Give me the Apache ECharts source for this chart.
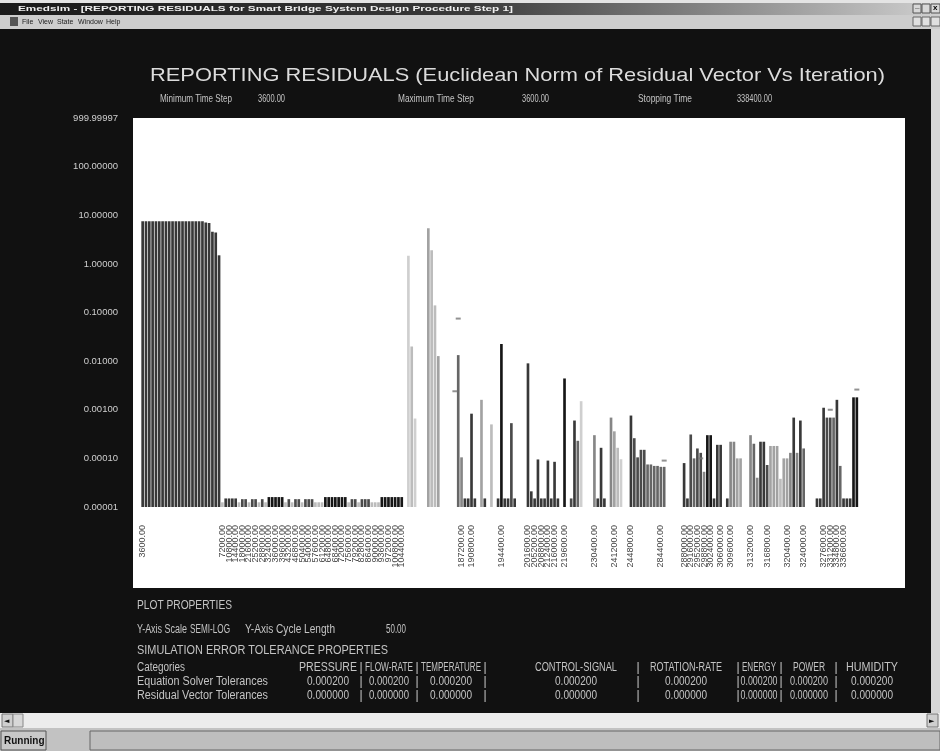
<!DOCTYPE html>
<html><head><meta charset="utf-8">
<style>html,body{margin:0;padding:0;background:#111;}#c{width:940px;height:751px;}</style>
<script src="https://cdn.jsdelivr.net/npm/echarts@6/dist/echarts.min.js"></script>
</head><body><div id="c"></div><script>
// ---------------- data ----------------
const variables = ['PRESSURE','FLOW-RATE','TEMPERATURE','CONTROL-SIGNAL','ROTATION-RATE','ENERGY','POWER','HUMIDITY'];
const solverTolerances   = ['0.000200','0.000200','0.000200','0.000200','0.000200','0.000200','0.000200','0.000200'];
const residualTolerances = ['0.000000','0.000000','0.000000','0.000000','0.000000','0.000000','0.000000','0.000000'];
const iterationCount = 230;
const yTickLabels = ['0.00001','0.00010','0.00100','0.01000','0.10000','1.00000','10.00000','100.00000','999.99997'];

// start-up iterations
const startIter = [0,1,2,3,4,5,6,7,8,9,10,11,12,13,14,15,16,17,18,19,20,21,22,23];
const startRes  = [7.5,7.5,7.5,7.5,7.5,7.5,7.5,7.5,7.5,7.5,7.5,7.5,7.5,7.5,7.5,7.5,7.5,7.5,7.5,7.1,6.9,4.6,4.4,1.5];
const startVar  = [1,1,1,1,1,1,1,1,1,1,1,1,1,1,1,1,1,1,1,1,1,1,1,1];

// converged iterations
const steadyIter = [24,25,26,27,28,29,30,31,32,33,34,35,36,37,38,39,40,41,42,43,44,45,46,47,48,49,50,51,52,53,54,55,56,57,58,59,60,61,62,63,64,65,66,67,68,69,70,71,72,73,74,75,76,77,78];
const steadyRes  = [1.25e-5,1.5e-5,1.5e-5,1.5e-5,1.5e-5,1.25e-5,1.45e-5,1.45e-5,1.25e-5,1.45e-5,1.45e-5,1.25e-5,1.45e-5,1.25e-5,1.6e-5,1.6e-5,1.6e-5,1.6e-5,1.6e-5,1.25e-5,1.45e-5,1.25e-5,1.45e-5,1.45e-5,1.25e-5,1.45e-5,1.45e-5,1.45e-5,1.25e-5,1.25e-5,1.25e-5,1.6e-5,1.6e-5,1.6e-5,1.6e-5,1.6e-5,1.6e-5,1.6e-5,1.25e-5,1.45e-5,1.45e-5,1.25e-5,1.45e-5,1.45e-5,1.45e-5,1.25e-5,1.25e-5,1.25e-5,1.6e-5,1.6e-5,1.6e-5,1.6e-5,1.6e-5,1.6e-5,1.6e-5];
const steadyVar  = [6,1,1,1,1,6,2,2,6,2,2,6,2,6,0,0,0,0,0,6,2,6,2,2,6,2,2,2,6,6,6,0,0,0,0,0,0,0,6,2,2,6,2,2,2,6,6,6,0,0,0,0,0,0,0];

// transient iterations
const transIter = [80,81,82,86,87,88,89];
const transRes  = [1.47,0.02,6.6e-4,5.4,1.9,0.14,0.0127];
const transVar  = [7,6,7,5,6,6,5];

// late iterations
const lateIter = [95,96,97,98,99,100,102,103,105,107,108,109,110,111,112,116,117,118,119,120,121,122,123,124,125,127,129,130,131,132,136,137,138,139,141,142,143,144,147,148,149,150,151,152,153,154,155,156,157,163,164,165,166,167,168,169,170,171,172,173,174,176,177,178,179,180,183,184,185,186,187,188,189,190,191,192,193,194,195,196,197,198,199,203,204,205,206,207,208,209,210,211,212,213,214,215];
const lateRes  = [0.0133,1.05e-4,1.5e-5,1.5e-5,8.3e-4,1.5e-5,1.6e-3,1.5e-5,5e-4,1.5e-5,0.0225,1.5e-5,1.5e-5,5.3e-4,1.5e-5,9e-3,2.1e-5,1.5e-5,9.5e-5,1.5e-5,1.5e-5,9e-5,1.5e-5,8.5e-5,1.5e-5,4.4e-3,1.5e-5,6e-4,2.3e-4,1.5e-3,3e-4,1.5e-5,1.65e-4,1.5e-5,6.9e-4,3.6e-4,1.65e-4,9.6e-5,7.6e-4,2.6e-4,1.05e-4,1.5e-4,1.5e-4,7.5e-5,7.5e-5,7e-5,7e-5,6.7e-5,6.7e-5,8e-5,1.5e-5,3.1e-4,1e-4,1.6e-4,1.3e-4,5.3e-5,3e-4,3e-4,1.5e-5,1.9e-4,1.9e-4,1.5e-5,2.2e-4,2.2e-4,1e-4,1e-4,3e-4,2e-4,4e-5,2.2e-4,2.2e-4,7.3e-5,1.8e-4,1.8e-4,1.8e-4,3.8e-5,1e-4,1e-4,1.3e-4,6.9e-4,1.3e-4,6e-4,1.6e-4,1.5e-5,1.5e-5,1.1e-3,6.9e-4,6.9e-4,6.9e-4,1.6e-3,7e-5,1.5e-5,1.5e-5,1.5e-5,1.8e-3,1.8e-3];
const lateVar  = [3,4,1,1,1,1,5,1,6,1,0,1,1,2,1,1,1,1,1,1,1,1,1,1,1,0,2,1,3,7,4,1,1,1,4,5,6,7,1,2,2,2,2,3,3,3,3,3,3,1,1,2,3,2,2,4,0,0,1,1,1,1,4,4,5,5,4,3,4,1,1,2,5,5,5,6,5,5,4,1,4,1,3,1,1,1,2,2,3,1,3,1,1,1,0,0];

// small tolerance markers
const markerIter = [94,95,157,168,207,215];
const markerRes  = [0.0024,0.075,9e-5,1.0e-4,1.0e-3,2.6e-3];

// x tick labels (time, s)
const labelIter = [0,24,26,28,30,32,34,36,38,40,42,44,46,48,50,52,54,56,58,60,62,64,66,68,70,72,74,76,78,96,99,108,116,118,120,122,124,127,136,142,147,156,163,165,167,169,171,174,177,183,188,194,199,205,207,209,211,213];
const labelTime = ['3600.00','7200.00','10800.00','14400.00','18000.00','21600.00','25200.00','28800.00','32400.00','36000.00','39600.00','43200.00','46800.00','50400.00','54000.00','57600.00','61200.00','64800.00','68400.00','72000.00','75600.00','79200.00','82800.00','86400.00','90000.00','93600.00','97200.00','100800.00','104400.00','187200.00','190800.00','194400.00','201600.00','205200.00','208800.00','212400.00','216000.00','219600.00','230400.00','241200.00','244800.00','284400.00','288000.00','291600.00','295200.00','298800.00','302400.00','306000.00','309600.00','313200.00','316800.00','320400.00','324000.00','327600.00','331200.00','334800.00','336600.00','338400.00'];

// ---------------- build ----------------
// semi-log scale: plotted height = number of decades above the 0.00001 floor
const shade = ['#161616','#383838','#4a4a4a','#666666','#868686','#a2a2a2','#bcbcbc','#cfcfcf'];
const FLOOR_EXP = -5, DECADES = 8;
const toDecades = (v) => Math.log10(v) - FLOOR_EXP;
const dense = new Array(iterationCount).fill(null);
function put(it, rs, vr){ it.forEach((k,j)=>{ dense[k] = {value: toDecades(rs[j]), itemStyle:{color: shade[vr[j]]}}; }); }
put(startIter,startRes,startVar); put(steadyIter,steadyRes,steadyVar); put(transIter,transRes,transVar); put(lateIter,lateRes,lateVar);
const categories = Array.from({length: iterationCount}, (_, k) => String(k + 1));
const labelMap = new Map(labelIter.map((k,j)=>[k, labelTime[j]]));
const markers = markerIter.map((k,j)=>[k, toDecades(markerRes[j])]);

const SANS = '"Liberation Sans",Arial,sans-serif';
const mctx = document.createElement('canvas').getContext('2d');
function T(text, x, y, o){ o = o||{}; const size=o.size||10, weight=o.weight||'normal', fam=o.family||SANS;
  const font = weight+' '+size+'px '+fam; let sx = o.sx||1;
  if (o.w){ mctx.font = font; sx = o.w / mctx.measureText(text).width; }
  return {type:'text', x:x, y:y, z: o.z||10, silent:true, scaleX:sx,
  style:{text:text, fill:o.fill||'#c4c4c4', font:font,
    textAlign:o.align||'left', align:o.align||'left', textVerticalAlign:'middle', verticalAlign:'middle'}}; }
function R(x,y,w,h,fill,o){ o=o||{}; return {type:'rect', z:o.z!==undefined?o.z:-10, silent:true, shape:{x:x,y:y,width:w,height:h}, style:{fill:fill, stroke:o.stroke||null, lineWidth:o.lw||1}}; }

const g = [];
// window chrome
g.push(R(0,0,940,15,'#e4e4e4',{z:-20}));
g.push({type:'rect', z:-19, silent:true, shape:{x:0,y:3,width:940,height:12},
  style:{fill:new echarts.graphic.LinearGradient(0,0,1,0,[{offset:0,color:'#1a1a1a'},{offset:0.5,color:'#3a3a3a'},{offset:1,color:'#cfcfcf'}])}});
g.push(T('Emedsim - [REPORTING RESIDUALS for Smart Bridge System Design Procedure Step 1]', 18, 9, {fill:'#f0f0f0', size:8, weight:'bold', w:495}));
g.push(R(913,4,8,9,'#d8d8d8',{z:-5,stroke:'#555'})); g.push(R(922,4,8,9,'#d8d8d8',{z:-5,stroke:'#555'})); g.push(R(931,4,9,9,'#d8d8d8',{z:-5,stroke:'#555'}));
g.push(T('_',915,6,{fill:'#000',size:8,weight:'bold'}));
g.push(T('x',933,8,{fill:'#000',size:8,weight:'bold'}));
g.push(R(0,15,940,14,'#cdcdcd',{z:-20}));
g.push(R(10,17,8,9,'#555',{z:-5}));
g.push(T('File', 22, 22, {fill:'#222', size:7}));
g.push(T('View', 38, 22, {fill:'#222', size:7}));
g.push(T('State', 57, 22, {fill:'#222', size:7}));
g.push(T('Window', 78, 22, {fill:'#222', size:7}));
g.push(T('Help', 106, 22, {fill:'#222', size:7}));
g.push(R(913,17,8,9,'#e0e0e0',{z:-5,stroke:'#666'})); g.push(R(922,17,8,9,'#e0e0e0',{z:-5,stroke:'#666'})); g.push(R(931,17,9,9,'#e0e0e0',{z:-5,stroke:'#666'}));
g.push(R(0,29,931,684,'#111111',{z:-20}));
g.push(R(931,29,9,684,'#d6d6d6',{z:-20}));
// scrollbar + status bar
g.push(R(0,713,940,15,'#ececec',{z:-20}));
g.push(R(2,714,11,13,'#cfcfcf',{z:-5,stroke:'#777'})); g.push(R(13,714,10,13,'#d8d8d8',{z:-5,stroke:'#888'}));
g.push(R(927,714,11,13,'#cfcfcf',{z:-5,stroke:'#777'}));
g.push(T('\u25C4', 4, 721, {fill:'#111', size:7, family:'DejaVu Sans'}));
g.push(T('\u25BA', 929, 721, {fill:'#111', size:7, family:'DejaVu Sans'}));
g.push(R(0,728,940,23,'#c2c2c2',{z:-20}));
g.push(R(1,731,45,19,'#c8c8c8',{z:-5,stroke:'#555'}));
g.push(R(90,731,850,19,'#bebebe',{z:-5,stroke:'#666'}));
g.push(T('Running', 4, 741, {fill:'#111', size:10, weight:'bold'}));
// white plot panel
g.push(R(133,118,772,470,'#ffffff',{z:-10}));
// header texts
g.push(T('REPORTING RESIDUALS (Euclidean Norm of Residual Vector Vs Iteration)', 150, 76, {fill:'#dcdcdc', size:19, w:735}));
g.push(T('Minimum Time Step', 160, 99, {size:11, w:72})); g.push(T('3600.00', 258, 99, {size:11, w:27}));
g.push(T('Maximum Time Step', 398, 99, {size:11, w:76})); g.push(T('3600.00', 522, 99, {size:11, w:27}));
g.push(T('Stopping Time', 638, 99, {size:11, w:54})); g.push(T('338400.00', 737, 99, {size:11, w:35}));
// footer texts
const FS = 12;
g.push(T('PLOT PROPERTIES', 137, 606, {size:FS, w:95}));
g.push(T('Y-Axis Scale', 137, 630, {size:FS, w:50})); g.push(T('SEMI-LOG', 190, 630, {size:FS, w:40}));
g.push(T('Y-Axis Cycle Length', 245, 630, {size:FS, w:90})); g.push(T('50.00', 386, 630, {size:FS, w:20}));
g.push(T('SIMULATION ERROR TOLERANCE PROPERTIES', 137, 651, {size:FS, w:251}));
g.push(T('Categories', 137, 668, {size:FS, w:48}));
g.push(T('Equation Solver Tolerances', 137, 682, {size:FS, w:131}));
g.push(T('Residual Vector Tolerances', 137, 696, {size:FS, w:131}));
const colCenter = [328, 389, 451, 576, 686, 759, 809, 872];
const colWidth  = [58, 48, 60, 82, 72, 34, 32, 52];
const valWidth  = [42, 40, 42, 42, 42, 37, 38, 42];
const colSep = [361, 417, 485, 638, 738, 781, 836];
variables.forEach((v,j)=>{
  g.push(T(v, colCenter[j], 668, {size:FS, align:'center', w:colWidth[j]}));
  g.push(T(solverTolerances[j], colCenter[j], 682, {size:FS, align:'center', w:valWidth[j]}));
  g.push(T(residualTolerances[j], colCenter[j], 696, {size:FS, align:'center', w:valWidth[j]}));
});
colSep.forEach(x=>{ [668,682,696].forEach(y=>g.push(T('|', x, y, {size:FS, align:'center'}))); });

const chart = echarts.init(document.getElementById('c'), null, {renderer:'canvas'});
chart.setOption({
  backgroundColor:'#111111',
  animation:false,
  grid:{left:141, right:35, top:118, bottom:244},
  xAxis:{type:'category', data:categories, boundaryGap:true,
    axisLine:{show:false}, axisTick:{show:false}, splitLine:{show:false},
    axisLabel:{interval:(idx)=>labelMap.has(idx), formatter:(val,idx)=>labelMap.get(idx)||'', rotate:90, margin:18,
      fontSize:9, color:'#484848', fontFamily:SANS, hideOverlap:false}},
  yAxis:{type:'value', min:0, max:DECADES, interval:1,
    axisLine:{show:false}, axisTick:{show:false}, splitLine:{show:false},
    axisLabel:{margin:23, fontSize:9.5, color:'#cfcfcf', fontFamily:SANS,
      formatter:(v)=>yTickLabels[Math.round(v)]}},
  graphic:{elements:g},
  series:[
    {type:'bar', data:dense, barWidth:'80%', barGap:'-100%', z:3},
    {type:'scatter', data:markers, symbol:'rect', symbolSize:[5,2], itemStyle:{color:'#777'}, z:4}
  ]
});
</script></body></html>
